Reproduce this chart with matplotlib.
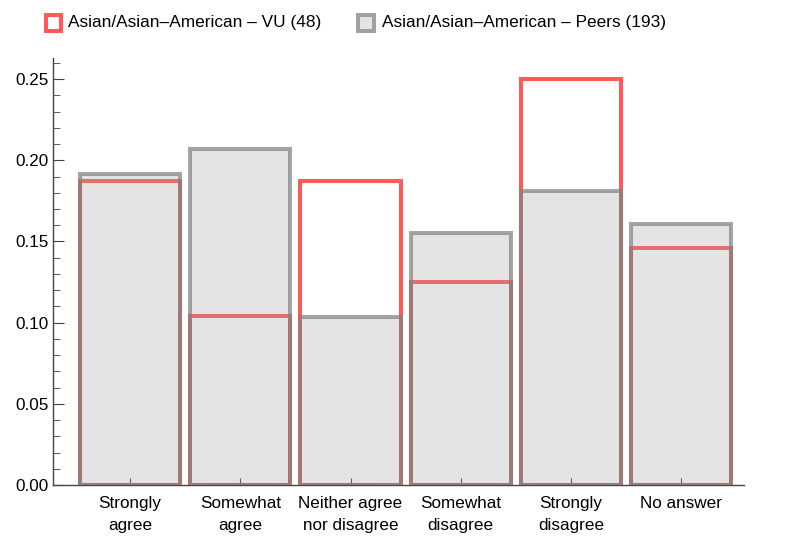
import matplotlib
matplotlib.use('Agg')
import matplotlib.pyplot as plt
from matplotlib.patches import Rectangle
from matplotlib.ticker import MultipleLocator, FormatStrFormatter
import numpy as np

plt.rcParams['font.family'] = ['Liberation Sans', 'DejaVu Sans']

categories = ['Strongly\nagree', 'Somewhat\nagree', 'Neither agree\nnor disagree',
              'Somewhat\ndisagree', 'Strongly\ndisagree', 'No answer']
vu_counts = [9, 5, 9, 6, 12, 7]
peer_counts = [37, 40, 20, 30, 35, 31]

vu_label = 'Asian/Asian\u2013American \u2013 VU (48)'
peer_label = 'Asian/Asian\u2013American \u2013 Peers (193)'

vu = np.array(vu_counts) / sum(vu_counts)
peers = np.array(peer_counts) / sum(peer_counts)
x = np.arange(len(categories))

W, H = 785, 543
fig = plt.figure(figsize=(W / 100, H / 100), dpi=100)
ax = fig.add_axes([53 / W, 1 - 485 / H, (744 - 53) / W, (485 - 58) / H])

w = 0.91
red = '#ff5a5a'
gray_fill = (0.63, 0.63, 0.63, 0.28)
gray_edge = (0.5, 0.5, 0.5, 0.7)
ax.bar(x, vu, width=w, facecolor='none', edgecolor=red, linewidth=2.9, zorder=2)
ax.bar(x, peers, width=w, facecolor=gray_fill, edgecolor=gray_edge, linewidth=2.9, zorder=3)

ax.set_xlim(-0.70, 5.57)
ax.set_ylim(0, 0.263)
ax.yaxis.set_major_locator(MultipleLocator(0.05))
ax.yaxis.set_minor_locator(MultipleLocator(0.01))
ax.yaxis.set_major_formatter(FormatStrFormatter('%.2f'))
ax.set_xticks(x)
ax.set_xticklabels(categories, linespacing=1.6)
ax.tick_params(axis='both', direction='in', labelsize=12.3, color='#444444')
ax.tick_params(axis='y', which='major', length=8)
ax.tick_params(axis='y', which='minor', length=5, direction='in', color='#444444')
ax.tick_params(axis='x', length=5, pad=8)
for s in ['top', 'right']:
    ax.spines[s].set_visible(False)
for s in ['left', 'bottom']:
    ax.spines[s].set_color('#444444')
    ax.spines[s].set_linewidth(1)

# legend drawn by hand above the plot
fig.patches.append(Rectangle((46 / W, 1 - 31 / H), 15 / W, 16 / H, transform=fig.transFigure,
                             facecolor='white', edgecolor=red, linewidth=2.9))
fig.text(68 / W, 1 - 23 / H, vu_label, fontsize=12.4, va='center', ha='left')
fig.patches.append(Rectangle((358 / W, 1 - 31 / H), 16 / W, 16 / H, transform=fig.transFigure,
                             facecolor='#e4e4e4', edgecolor='#a0a0a0', linewidth=2.9))
fig.text(382 / W, 1 - 23 / H, peer_label, fontsize=12.4, va='center', ha='left')

fig.savefig('out.png', dpi=100)
